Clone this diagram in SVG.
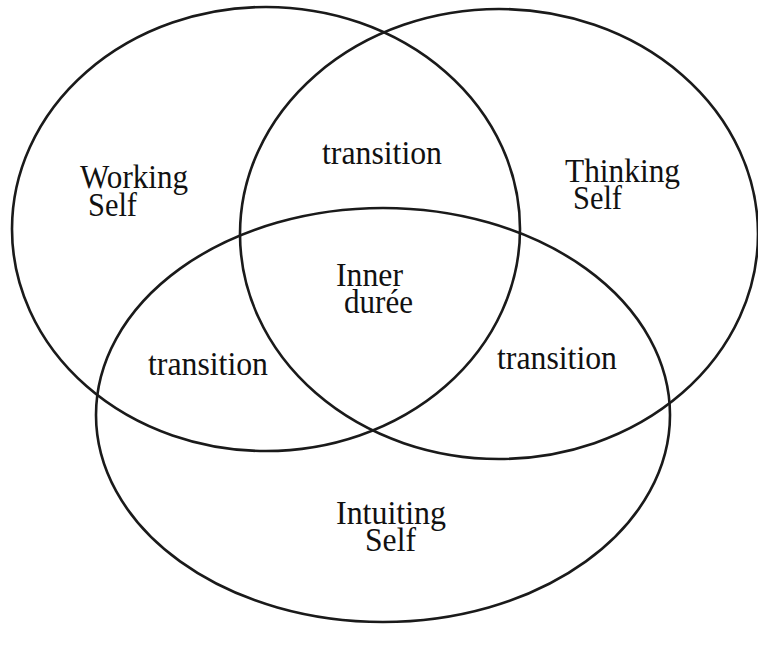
<svg xmlns="http://www.w3.org/2000/svg" width="758" height="653" viewBox="0 0 758 653">
<style>
.set{fill:none;stroke:#1a1a1a;stroke-width:2.6}
.lbl{font-family:"Liberation Serif","Times New Roman",serif;font-size:34px;fill:#111}
.mid{text-anchor:middle}
</style>
<rect width="758" height="653" fill="#fff"/>
<g id="working-self">
<ellipse class="set" cx="266" cy="229" rx="254" ry="222"/>
<text class="lbl" x="80" y="188" textLength="108" lengthAdjust="spacingAndGlyphs">Working</text>
<text class="lbl" x="88" y="216" textLength="49" lengthAdjust="spacingAndGlyphs">Self</text>
</g>
<g id="thinking-self">
<ellipse class="set" cx="499" cy="234" rx="259" ry="225"/>
<text class="lbl" x="565" y="182" textLength="115" lengthAdjust="spacingAndGlyphs">Thinking</text>
<text class="lbl" x="573" y="209" textLength="49" lengthAdjust="spacingAndGlyphs">Self</text>
</g>
<g id="intuiting-self">
<ellipse class="set" cx="383" cy="415" rx="287" ry="207"/>
<text class="lbl" x="336" y="524" textLength="110" lengthAdjust="spacingAndGlyphs">Intuiting</text>
<text class="lbl" x="365" y="551" textLength="51" lengthAdjust="spacingAndGlyphs">Self</text>
</g>
<g id="transition-top"><text class="lbl" x="322" y="164" textLength="120" lengthAdjust="spacingAndGlyphs">transition</text></g>
<g id="transition-left"><text class="lbl" x="148" y="375" textLength="120" lengthAdjust="spacingAndGlyphs">transition</text></g>
<g id="transition-right"><text class="lbl" x="497" y="369" textLength="120" lengthAdjust="spacingAndGlyphs">transition</text></g>
<g id="inner-duree">
<text class="lbl" x="336" y="286" textLength="67" lengthAdjust="spacingAndGlyphs">Inner</text>
<text class="lbl" x="344" y="313" textLength="69" lengthAdjust="spacingAndGlyphs">durée</text>
</g>
<g id="connectors"></g>
</svg>
